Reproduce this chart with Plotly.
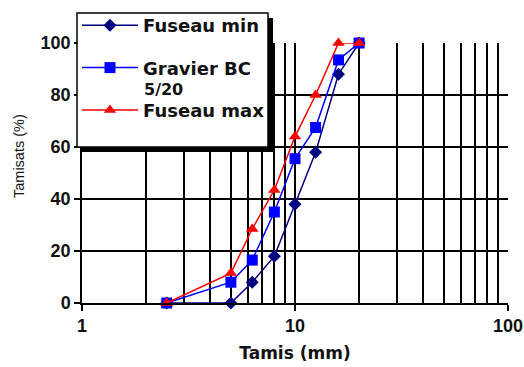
import plotly.graph_objects as go

# Data (sieve size in mm, % passing)
tamis = [2.5, 5, 6.3, 8, 10, 12.5, 16, 20]
fuseau_min = [0, 0, 8, 18, 38, 58, 88, 100]
gravier_bc = [0, 8, 16.5, 35, 55.5, 67.5, 93.5, 100]
fuseau_max = [0, 11.5, 28.5, 43.5, 64, 80, 100, 100]

series_names = ["Fuseau min", "Gravier BC", "Fuseau max"]
series_colors = ["#000080", "#0000FF", "#FF0000"]
series_symbols = ["diamond", "square", "triangle-up"]
series_sizes = [10, 11, 11]

x_ticks = [1, 10, 100]
x_minor = [2, 3, 4, 5, 6, 7, 8, 9, 20, 30, 40, 50, 60, 70, 80, 90]
y_ticks = [0, 20, 40, 60, 80, 100]

fig = go.Figure()
for i, (name, vals) in enumerate(zip(series_names, [fuseau_min, gravier_bc, fuseau_max])):
    fig.add_trace(go.Scatter(
        x=tamis, y=vals, name=name, mode="lines+markers",
        line=dict(color=series_colors[i], width=1.5),
        marker=dict(symbol=series_symbols[i], size=series_sizes[i], color=series_colors[i]),
        cliponaxis=False, legendgroup=str(i),
    ))

L, R, T, B = 82, 16, 43, 64
W, H = 524, 367
pw, ph = W - L - R, H - T - B

def px_x(p):
    return (p - L) / pw

def px_y(p):
    return (H - B - p) / ph

# legend frame with drop shadow
fig.add_shape(type="rect", xref="paper", yref="paper",
              x0=px_x(82), x1=px_x(273), y0=px_y(152), y1=px_y(18),
              fillcolor="black", line=dict(width=0), layer="above")
fig.add_shape(type="rect", xref="paper", yref="paper",
              x0=px_x(77), x1=px_x(268), y0=px_y(147), y1=px_y(13),
              fillcolor="white", line=dict(color="black", width=1.5), layer="above")

fig.add_annotation(text="5/20", xref="paper", yref="paper",
                   x=px_x(142), y=px_y(89), xanchor="left", yanchor="middle",
                   showarrow=False,
                   font=dict(family="DejaVu Sans", size=16, color="#111", weight="bold"))

fig.add_annotation(text="Tamisats (%)", xref="paper", yref="paper",
                   x=px_x(19), y=px_y(156), xanchor="center", yanchor="middle",
                   textangle=-90, showarrow=False,
                   font=dict(family="Liberation Sans Narrow, Liberation Sans", size=14.5, color="#111"))

fig.update_layout(
    width=W, height=H,
    margin=dict(l=L, r=R, t=T, b=B, autoexpand=False),
    paper_bgcolor="white", plot_bgcolor="white",
    font=dict(family="Liberation Sans", size=17, color="black"),
    showlegend=True,
    legend=dict(
        x=px_x(77), y=px_y(7), xanchor="left", yanchor="top",
        bgcolor="rgba(0,0,0,0)", borderwidth=0,
        font=dict(family="DejaVu Sans", size=18, color="#111", weight="bold"),
        itemwidth=56, tracegroupgap=16, valign="top",
    ),
    xaxis=dict(
        type="log", range=[0, 2],
        tickvals=x_ticks, ticktext=[str(v) for v in x_ticks],
        ticks="outside", ticklen=6, tickwidth=1.5, tickcolor="black",
        showgrid=True, gridcolor="black", gridwidth=1.5,
        minor=dict(tickvals=x_minor, showgrid=True, gridcolor="black", gridwidth=1.5, ticks=""),
        showline=True, linecolor="black", linewidth=1.5,
        zeroline=False,
        tickfont=dict(family="Liberation Sans", size=18, weight="bold", color="#111"),
        title=dict(text="Tamis (mm)", font=dict(family="DejaVu Sans", size=17, weight="bold", color="#111"), standoff=12),
    ),
    yaxis=dict(
        range=[0, 100],
        tickvals=y_ticks,
        ticks="outside", ticklen=6, tickwidth=1.5, tickcolor="black",
        showgrid=True, gridcolor="black", gridwidth=1.5,
        showline=True, linecolor="black", linewidth=1.5,
        zeroline=False,
        tickfont=dict(family="Liberation Sans", size=18, weight="bold", color="#111"),
    ),
)

fig.write_html("out.html", config={"displayModeBar": False},
               post_script="document.body.style.margin='0';")
